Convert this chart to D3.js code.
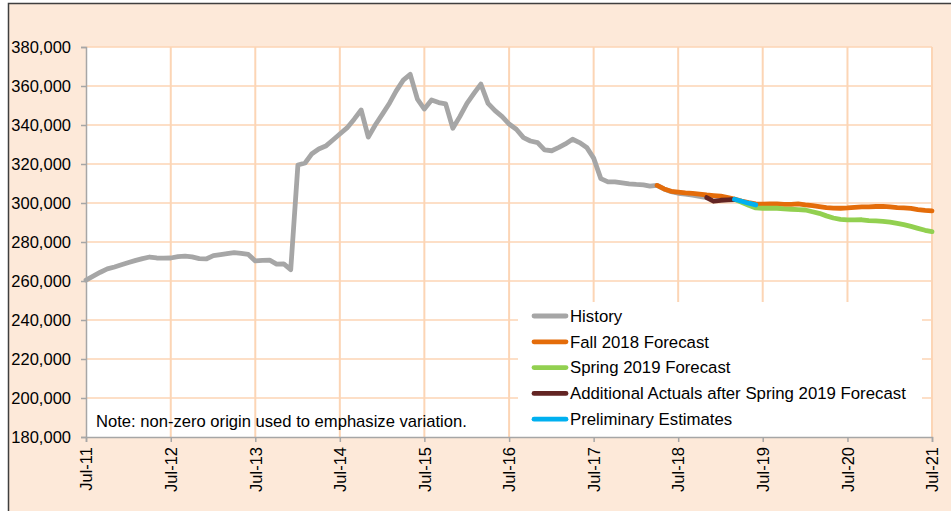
<!DOCTYPE html>
<html>
<head>
<meta charset="UTF-8">
<title>Enrollment history and forecasts</title>
<script src="https://d3js.org/d3.v7.min.js"></script>
<style>
	body { margin: 0; background: #fff; }
	svg { display: block; font-family: "Liberation Sans", Arial, sans-serif; }
</style>
</head>
<body>
<div id="chart"></div>
<script>

// monthly values, each series starts at the month given
var historyStart = "2011-07";
var historyValues = [
	260500, 262500, 264500, 266200, 267200, 268300, 269500, 270600, 271500, 272300,
	271800, 271700, 271800, 272500, 272800, 272400, 271500, 271300, 273000, 273500,
	274000, 274600, 274200, 273600, 270300, 270600, 270700, 268700, 268800, 265800,
	319500, 320500, 325100, 327700, 329200, 332300, 335400, 338500, 343000, 347700,
	333800, 340000, 345600, 351300, 357400, 363000, 366000, 353300, 348200, 352800,
	351500, 350800, 338300, 344300, 351100, 356300, 361000, 351100, 347400, 344300,
	340500, 337800, 333500, 331800, 331000, 327200, 326800, 328500, 330300, 332700,
	331000, 328500, 323000, 312500, 310800, 310800, 310300, 309800, 309500, 309300,
	308700, 309000, 307200, 305800, 305000, 304500, 304000, 303400, 302800
];

var fallStart = "2018-04";
var fallValues = [
	309000, 307200, 306000, 305600, 305200, 304900, 304500, 304100, 303800, 303500,
	302800, 302000, 301000, 300200, 299600, 299400, 299500, 299500, 299300, 299300,
	299500, 299000, 298600, 298200, 297600, 297400, 297300, 297500, 297800, 298000,
	298000, 298200, 298300, 298000, 297600, 297500, 297200, 296600, 296200, 296000
];

var springStart = "2019-03";
var springValues = [
	301900, 300300, 298800, 297500, 297300, 297300, 297300, 297000, 296800, 296600,
	296400, 295500, 294700, 293400, 292300, 291600, 291300, 291300, 291400, 291000,
	290800, 290600, 290200, 289500, 288900, 288000, 287000, 286000, 285300
];

var actualsStart = "2018-11";
var actualsValues = [302800, 300900, 301400, 301600, 301800];

var prelimStart = "2019-03";
var prelimValues = [301900, 300900, 299900, 299000];

var seriesNames = ["History", "Fall 2018 Forecast", "Spring 2019 Forecast",
	"Additional Actuals after Spring 2019 Forecast", "Preliminary Estimates"];
var seriesColors = ["#a6a6a6", "#e46c0a", "#92d050", "#632523", "#00b0f0"];

var yTicks = [180000, 200000, 220000, 240000, 260000, 280000, 300000, 320000, 340000, 360000, 380000];
var xTickYears = [2011, 2012, 2013, 2014, 2015, 2016, 2017, 2018, 2019, 2020, 2021];

var noteText = "Note: non-zero origin used to emphasize variation.";

// turn a start month plus values into dated points
var parseMonth = d3.timeParse("%Y-%m");
function toPoints(start, values)
{
	var t0 = parseMonth(start);
	return values.map(function(v, i) {
		return { date: d3.timeMonth.offset(t0, i), value: v };
	});
}

var series = [
	toPoints(historyStart, historyValues),
	toPoints(fallStart, fallValues),
	toPoints(springStart, springValues),
	toPoints(actualsStart, actualsValues),
	toPoints(prelimStart, prelimValues)
];

var W = 951, H = 511;
var plot = { left: 86, right: 932, top: 47, bottom: 437 };
var font = 16.5;

var svg = d3.select("#chart").append("svg")
	.attr("width", W)
	.attr("height", H);

// outer chart area with its border
svg.append("rect")
	.attr("x", 8.5).attr("y", 3.5)
	.attr("width", W).attr("height", H)
	.attr("fill", "#fde9d9")
	.attr("stroke", "#3f3f3f")
	.attr("stroke-width", 1.5);

var x = d3.scaleTime()
	.domain([new Date(2011, 6, 1), new Date(2021, 6, 1)])
	.range([plot.left, plot.right]);

var y = d3.scaleLinear()
	.domain([180000, 380000])
	.range([plot.bottom, plot.top]);

var xTicks = xTickYears.map(function(yr) { return new Date(yr, 6, 1); });

// plot area
svg.append("rect")
	.attr("x", plot.left).attr("y", plot.top)
	.attr("width", plot.right - plot.left)
	.attr("height", plot.bottom - plot.top)
	.attr("fill", "#fff");

// gridlines
var grid = svg.append("g").attr("class", "grid");
grid.selectAll("line.h")
	.data(yTicks.slice(1))
	.enter().append("line")
	.attr("class", "h")
	.attr("x1", plot.left).attr("x2", plot.right)
	.attr("y1", function(d) { return y(d); })
	.attr("y2", function(d) { return y(d); })
	.attr("stroke", "#fcd5b5")
	.attr("stroke-width", 1.5);

grid.selectAll("line.v")
	.data(xTicks.slice(1))
	.enter().append("line")
	.attr("class", "v")
	.attr("x1", function(d) { return x(d); })
	.attr("x2", function(d) { return x(d); })
	.attr("y1", plot.top).attr("y2", plot.bottom)
	.attr("stroke", "#fcd5b5")
	.attr("stroke-width", 2);

// legend box sits over the gridlines, under the lines
var legendBox = { x: 518, y: 302, w: 404, h: 135 };
svg.append("rect")
	.attr("x", legendBox.x).attr("y", legendBox.y)
	.attr("width", legendBox.w).attr("height", legendBox.h)
	.attr("fill", "#fff");

// series lines
var line = d3.line()
	.x(function(d) { return x(d.date); })
	.y(function(d) { return y(d.value); });

svg.append("g").selectAll("path")
	.data(series)
	.enter().append("path")
	.attr("d", line)
	.attr("fill", "none")
	.attr("stroke", function(d, i) { return seriesColors[i]; })
	.attr("stroke-width", 4.8)
	.attr("stroke-linejoin", "round")
	.attr("stroke-linecap", "round");

// axes
var yAxis = svg.append("g")
	.attr("transform", "translate(" + plot.left + ",0)")
	.call(d3.axisLeft(y).tickValues(yTicks).tickFormat(d3.format(",")).tickSizeOuter(0).tickSize(5).tickPadding(10));

var xAxis = svg.append("g")
	.attr("transform", "translate(0," + plot.bottom + ")")
	.call(d3.axisBottom(x).tickValues(xTicks).tickFormat(d3.timeFormat("%b-%y")).tickSizeOuter(0).tickSize(5));

xAxis.selectAll("text")
	.attr("transform", "rotate(-90)")
	.attr("x", -10)
	.attr("y", 0)
	.attr("dy", "0.35em")
	.attr("text-anchor", "end");

[xAxis, yAxis].forEach(function(ax) {
	ax.select(".domain").attr("stroke", "#a6a6a6").attr("stroke-width", 1.5);
	ax.selectAll(".tick line").attr("stroke", "#a6a6a6").attr("stroke-width", 1.5);
	ax.selectAll("text")
		.attr("fill", "#000")
		.style("font-size", font + "px")
		.style("font-family", "'Liberation Sans', Arial, sans-serif");
});

// legend entries
var legend = svg.append("g");
var entry = legend.selectAll("g")
	.data(seriesNames)
	.enter().append("g")
	.attr("transform", function(d, i) { return "translate(0," + (316 + i * 25.8) + ")"; });

entry.append("line")
	.attr("x1", 534).attr("x2", 566)
	.attr("stroke", function(d, i) { return seriesColors[i]; })
	.attr("stroke-width", 4.8)
	.attr("stroke-linecap", "round");

entry.append("text")
	.attr("x", 570)
	.attr("dy", "0.35em")
	.style("font-size", "16.8px")
	.text(function(d) { return d; });

// note on the origin
svg.append("text")
	.attr("x", 96).attr("y", 427)
	.style("font-size", "16.6px")
	.text(noteText);

</script>
</body>
</html>
